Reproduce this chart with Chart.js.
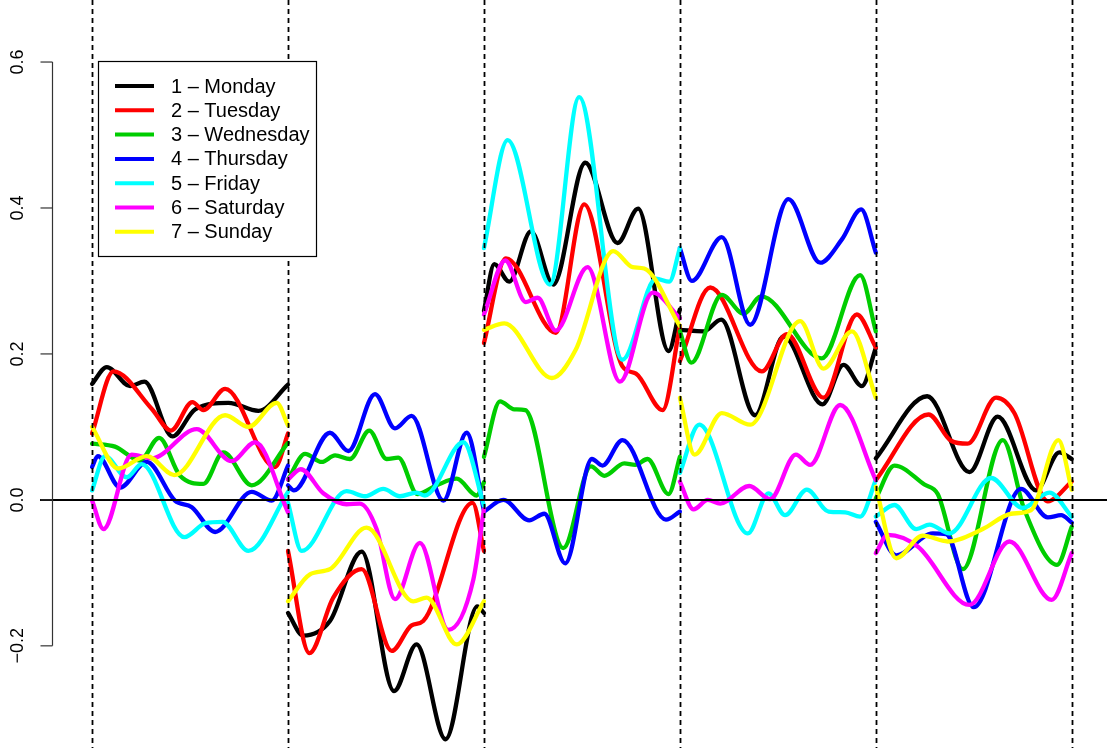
<!DOCTYPE html>
<html>
<head>
<meta charset="utf-8">
<script src="https://cdn.jsdelivr.net/npm/chart.js@4.4.1/dist/chart.umd.min.js"></script>
<style>
  html, body { margin: 0; padding: 0; background: #fff; }
  #wrap { width: 1107px; height: 755px; }
</style>
</head>
<body>
<div id="wrap"><canvas id="chart" width="1107" height="755"></canvas></div>
<script>
// Legend labels and line colours (R palette 1..7)
const dayLabels = ['1 – Monday', '2 – Tuesday', '3 – Wednesday', '4 – Thursday', '5 – Friday', '6 – Saturday', '7 – Sunday'];
const dayColors = ['#000000', '#FF0000', '#00CD00', '#0000FF', '#00FFFF', '#FF00FF', '#FFFF00'];

// y axis ticks
const tickValues = [0.6, 0.4, 0.2, 0.0, -0.2];
// vertical separators between the 5 blocks
const blockEdges = [0, 1, 2, 3, 4, 5];

// Each day: 5 blocks, each a list of [position within block (0..1), value]
const monday = [
  [[0, 0.159], [0.075, 0.182], [0.194, 0.156], [0.267, 0.162], [0.410, 0.087], [0.526, 0.124], [0.696, 0.133], [0.849, 0.122], [1, 0.158]],
  [[0, -0.155], [0.078, -0.186], [0.214, -0.166], [0.376, -0.071], [0.541, -0.262], [0.656, -0.198], [0.804, -0.328], [0.966, -0.146], [1, -0.155]],
  [[0, 0.259], [0.053, 0.323], [0.129, 0.299], [0.240, 0.368], [0.354, 0.295], [0.517, 0.462], [0.682, 0.352], [0.787, 0.399], [0.942, 0.204], [1, 0.261]],
  [[0, 0.233], [0.121, 0.231], [0.211, 0.247], [0.384, 0.116], [0.529, 0.224], [0.728, 0.131], [0.835, 0.185], [0.929, 0.156], [1, 0.208]],
  [[0, 0.057], [0.262, 0.142], [0.478, 0.038], [0.622, 0.114], [0.818, 0.013], [0.937, 0.065], [1, 0.056]]
];
const tuesday = [
  [[0, 0.091], [0.109, 0.176], [0.304, 0.125], [0.403, 0.095], [0.512, 0.134], [0.568, 0.123], [0.679, 0.152], [0.934, 0.045], [1, 0.091]],
  [[0, -0.070], [0.109, -0.210], [0.231, -0.134], [0.376, -0.095], [0.529, -0.207], [0.631, -0.172], [0.690, -0.166], [0.942, -0.004], [1, -0.070]],
  [[0, 0.215], [0.112, 0.331], [0.367, 0.229], [0.512, 0.405], [0.707, 0.183], [0.776, 0.173], [0.912, 0.123], [1, 0.238]],
  [[0, 0.190], [0.155, 0.291], [0.418, 0.176], [0.546, 0.227], [0.733, 0.140], [0.903, 0.254], [1, 0.209]],
  [[0, 0.027], [0.269, 0.117], [0.384, 0.081], [0.469, 0.077], [0.614, 0.140], [0.707, 0.119], [0.878, -0.002], [1, 0.025]]
];
const wednesday = [
  [[0, 0.077], [0.117, 0.073], [0.245, 0.054], [0.342, 0.085], [0.449, 0.033], [0.568, 0.022], [0.670, 0.065], [0.815, 0.020], [1, 0.078]],
  [[0, 0.028], [0.087, 0.063], [0.172, 0.052], [0.240, 0.061], [0.316, 0.056], [0.415, 0.095], [0.503, 0.056], [0.563, 0.058], [0.660, 0.008], [0.759, 0.020], [0.861, 0.029], [0.963, 0.006], [1, 0.024]],
  [[0, 0.059], [0.082, 0.135], [0.155, 0.124], [0.211, 0.123], [0.405, -0.066], [0.546, 0.046], [0.614, 0.033], [0.716, 0.050], [0.772, 0.048], [0.835, 0.056], [0.942, 0.008], [1, 0.059]],
  [[0, 0.231], [0.058, 0.188], [0.214, 0.281], [0.325, 0.255], [0.415, 0.279], [0.724, 0.194], [0.920, 0.308], [1, 0.231]],
  [[0, 0.002], [0.095, 0.047], [0.248, 0.021], [0.316, 0.008], [0.444, -0.095], [0.648, 0.082], [0.759, -0.014], [0.925, -0.089], [1, -0.037]]
];
const thursday = [
  [[0, 0.045], [0.029, 0.060], [0.143, 0.017], [0.279, 0.052], [0.423, -0.001], [0.509, -0.010], [0.628, -0.044], [0.815, 0.011], [0.917, -0.001], [1, 0.047]],
  [[0, 0.020], [0.030, 0.013], [0.214, 0.092], [0.308, 0.067], [0.444, 0.145], [0.546, 0.098], [0.631, 0.115], [0.793, -0.001], [0.912, 0.092], [1, -0.015]],
  [[0, -0.016], [0.099, 0.000], [0.231, -0.028], [0.308, -0.019], [0.415, -0.087], [0.551, 0.056], [0.605, 0.047], [0.707, 0.082], [0.929, -0.027], [1, -0.016]],
  [[0, 0.345], [0.061, 0.300], [0.214, 0.360], [0.359, 0.240], [0.554, 0.412], [0.716, 0.325], [0.827, 0.357], [0.925, 0.398], [1, 0.339]],
  [[0, -0.030], [0.104, -0.076], [0.291, -0.046], [0.359, -0.047], [0.500, -0.147], [0.741, 0.015], [0.878, -0.024], [0.946, -0.021], [1, -0.031]]
];
const friday = [
  [[0, 0.013], [0.066, 0.060], [0.177, 0.031], [0.253, 0.049], [0.471, -0.051], [0.577, -0.032], [0.665, -0.030], [0.798, -0.070], [1, 0.011]],
  [[0, -0.004], [0.070, -0.070], [0.299, 0.012], [0.393, 0.005], [0.486, 0.015], [0.571, 0.005], [0.656, 0.010], [0.699, 0.006], [0.895, 0.079], [1, -0.008]],
  [[0, 0.345], [0.121, 0.493], [0.337, 0.295], [0.486, 0.552], [0.707, 0.192], [0.878, 0.303], [0.946, 0.299], [1, 0.345]],
  [[0, 0.037], [0.099, 0.103], [0.347, -0.046], [0.452, 0.009], [0.537, -0.021], [0.648, 0.014], [0.759, -0.016], [0.844, -0.017], [0.920, -0.023], [1, 0.027]],
  [[0, -0.023], [0.095, -0.007], [0.206, -0.040], [0.274, -0.034], [0.376, -0.046], [0.588, 0.030], [0.750, -0.011], [0.886, 0.010], [1, -0.023]]
];
const saturday = [
  [[0, -0.001], [0.058, -0.040], [0.202, 0.062], [0.304, 0.057], [0.534, 0.097], [0.713, 0.053], [0.832, 0.079], [1, -0.017]],
  [[0, 0.028], [0.065, 0.042], [0.180, 0.009], [0.299, -0.006], [0.367, -0.005], [0.452, -0.040], [0.546, -0.136], [0.673, -0.059], [0.818, -0.178], [0.946, -0.109], [1, -0.013]],
  [[0, 0.254], [0.109, 0.328], [0.214, 0.271], [0.274, 0.277], [0.367, 0.232], [0.529, 0.319], [0.694, 0.162], [0.861, 0.284], [1, 0.249]],
  [[0, 0.025], [0.070, -0.013], [0.143, 0.000], [0.206, -0.005], [0.354, 0.019], [0.461, 0.001], [0.592, 0.062], [0.665, 0.048], [0.818, 0.130], [1, 0.027]],
  [[0, -0.073], [0.061, -0.048], [0.214, -0.064], [0.478, -0.144], [0.682, -0.057], [0.898, -0.137], [1, -0.073]]
];
const sunday = [
  [[0, 0.100], [0.134, 0.043], [0.279, 0.060], [0.420, 0.034], [0.679, 0.116], [0.798, 0.100], [0.942, 0.133], [1, 0.102]],
  [[0, -0.139], [0.112, -0.102], [0.214, -0.095], [0.401, -0.038], [0.639, -0.139], [0.707, -0.134], [0.861, -0.198], [1, -0.139]],
  [[0, 0.233], [0.104, 0.242], [0.347, 0.167], [0.469, 0.206], [0.660, 0.341], [0.759, 0.319], [0.818, 0.317], [1, 0.238]],
  [[0, 0.140], [0.075, 0.062], [0.214, 0.119], [0.359, 0.103], [0.614, 0.245], [0.733, 0.180], [0.878, 0.231], [1, 0.140]],
  [[0, 0.018], [0.104, -0.080], [0.240, -0.049], [0.367, -0.057], [0.546, -0.040], [0.690, -0.019], [0.793, -0.014], [0.932, 0.082], [1, 0.014]]
];

const allDays = [monday, tuesday, wednesday, thursday, friday, saturday, sunday];

// visible data window
const xMin = -0.47, xMax = 5.18;
const yMin = -0.34, yMax = 0.685;

// flatten the 5 blocks into one series, with a gap between blocks
function toPoints(blocks) {
    const pts = [];
    blocks.forEach((block, b) => {
        if (b > 0) pts.push({ x: b, y: null });
        block.forEach(([pos, val]) => pts.push({ x: b + pos, y: val }));
    });
    return pts;
}

// dashed separators, zero line, R-style y axis and boxed legend
const decorations = {
    id: 'decorations',
    afterDatasetsDraw(chart) {
        const { ctx, chartArea, scales } = chart;
        const xs = scales.x, ys = scales.y;
        ctx.save();

        // zero line
        ctx.strokeStyle = '#000';
        ctx.lineWidth = 2;
        const y0 = ys.getPixelForValue(0);
        ctx.beginPath();
        ctx.moveTo(40, y0);
        ctx.lineTo(chartArea.right, y0);
        ctx.stroke();

        // block separators
        ctx.setLineDash([5, 4]);
        ctx.lineWidth = 1.8;
        blockEdges.forEach(e => {
            const px = Math.round(xs.getPixelForValue(e)) + 0.5;
            ctx.beginPath();
            ctx.moveTo(px, 0);
            ctx.lineTo(px, chartArea.bottom);
            ctx.stroke();
        });
        ctx.setLineDash([]);

        // y axis
        const axX = 52.5;
        ctx.strokeStyle = '#333';
        ctx.lineWidth = 1.2;
        ctx.beginPath();
        ctx.moveTo(axX, ys.getPixelForValue(tickValues[0]));
        ctx.lineTo(axX, ys.getPixelForValue(tickValues[tickValues.length - 1]));
        ctx.stroke();
        ctx.fillStyle = '#000';
        ctx.font = '18px "Liberation Sans", Arial, sans-serif';
        ctx.textAlign = 'center';
        ctx.textBaseline = 'middle';
        tickValues.forEach(v => {
            const py = ys.getPixelForValue(v);
            ctx.beginPath();
            ctx.moveTo(40.5, py);
            ctx.lineTo(axX, py);
            ctx.stroke();
            ctx.save();
            ctx.translate(18, py);
            ctx.rotate(-Math.PI / 2);
            ctx.fillText(v.toFixed(1).replace('-', '\u2212'), 0, 0);
            ctx.restore();
        });

        // legend
        const box = { left: 98, top: 61, right: 316, bottom: 256 };
        ctx.fillStyle = '#fff';
        ctx.fillRect(box.left, box.top, box.right - box.left, box.bottom - box.top);
        ctx.strokeStyle = '#000';
        ctx.lineWidth = 1.2;
        ctx.strokeRect(box.left + 0.5, box.top + 0.5, box.right - box.left, box.bottom - box.top);
        ctx.textAlign = 'left';
        ctx.font = '20px "Liberation Sans", Arial, sans-serif';
        chart.data.datasets.forEach((ds, i) => {
            const ry = 86 + i * 24.3;
            ctx.strokeStyle = ds.borderColor;
            ctx.lineWidth = 4;
            ctx.beginPath();
            ctx.moveTo(115, ry);
            ctx.lineTo(154, ry);
            ctx.stroke();
            ctx.fillStyle = '#000';
            ctx.fillText(ds.label, 171, ry + 1);
        });

        ctx.restore();
    }
};

const datasets = allDays.map((blocks, i) => ({
    label: dayLabels[i],
    data: toPoints(blocks),
    borderColor: dayColors[i],
    borderWidth: 4.3,
    pointRadius: 0,
    fill: false,
    spanGaps: false,
    cubicInterpolationMode: 'monotone',
    borderCapStyle: 'round',
    borderJoinStyle: 'round',
    order: -i
}));

new Chart(document.getElementById('chart'), {
    type: 'line',
    data: { datasets },
    options: {
        responsive: false,
        animation: false,
        events: [],
        layout: { padding: { left: 0, right: 0, top: 0, bottom: 7 } },
        plugins: {
            legend: { display: false },
            tooltip: { enabled: false },
            title: { display: false }
        },
        scales: {
            x: { type: 'linear', min: xMin, max: xMax, display: false },
            y: { type: 'linear', min: yMin, max: yMax, display: false }
        }
    },
    plugins: [decorations]
});
</script>
</body>
</html>
